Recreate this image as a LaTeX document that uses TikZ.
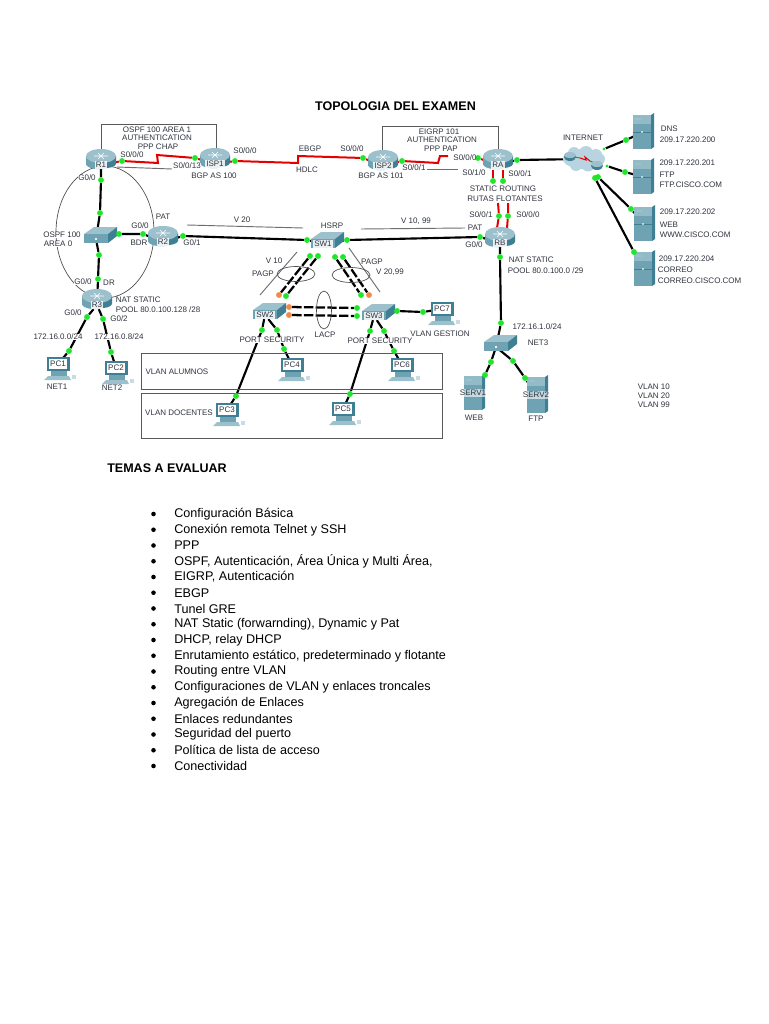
\documentclass[tikz,border=0pt]{standalone}
\usepackage{fontspec}
\setmainfont{Liberation Sans}
\usetikzlibrary{backgrounds}
\definecolor{devtop}{HTML}{9CC0CC}
\definecolor{devmid}{HTML}{6FA3B3}
\definecolor{devdark}{HTML}{3F7F94}
\definecolor{cloudc}{HTML}{B7D4E0}
\definecolor{inkc}{HTML}{30343F}
\definecolor{greyl}{HTML}{6E6E6E}
\definecolor{dotg}{HTML}{1FE52B}
\definecolor{doto}{HTML}{F08A4B}
\tikzset{
 lab/.style={font=\fontsize{6}{6.5}\selectfont,text=inkc,inner sep=0.4pt,fill=white},
 labn/.style={font=\fontsize{6}{6.5}\selectfont,text=inkc,inner sep=0.4pt},
 devlab/.style={font=\fontsize{6}{6.5}\selectfont,text=inkc,inner sep=0.8pt,fill=white,fill opacity=.85,text opacity=1},
 gdot/.style={circle,fill=dotg,minimum size=4.4pt,inner sep=0},
 odot/.style={circle,fill=doto,minimum size=4.4pt,inner sep=0},
 eth/.style={black,line width=1.6pt},
 chan/.style={black,line width=1.7pt,dash pattern=on 7pt off 1.8pt},
 ser/.style={red!90!black,line width=1.5pt},
 grl/.style={greyl,line width=.7pt},
 frame/.style={draw=black!65,line width=.7pt},
 ring/.style={draw=black!70,line width=.5pt},
 bul/.style={font=\fontsize{9.45}{11}\selectfont,text=black,inner sep=0,anchor=west},
 head/.style={font=\fontsize{9.4}{11}\selectfont\bfseries,text=black,inner sep=0},
}
\newcounter{labc}
\newcommand\lab[4][center]{\stepcounter{labc}\node[lab,anchor=#1] (t\thelabc) at (#2,#3) {#4};}
\newcommand\labb[4][center]{\stepcounter{labc}\node[labn,anchor=#1] (t\thelabc) at (#2,#3) {#4};}
\newcommand\gd[3]{\node[gdot] (#1) at (#2,#3) {};}
\newcommand\od[3]{\node[odot] (#1) at (#2,#3) {};}
\newcommand\routerdev[4]{%
 \begin{scope}[shift={(#2,#3)}]
  \fill[devdark] (-15,-3) -- (-15,5) .. controls (-14,11) and (14,11) .. (15,5) -- (15,-3) -- cycle;
  \fill[devmid] (-15,-3) -- (-15,5) .. controls (-14,11) and (4,11) .. (5,9) -- (5,-3) -- cycle;
  \fill[devtop] (0,-3) ellipse [x radius=15,y radius=7];
  \draw[white,line width=.5pt] (-7,-3) -- (7,-3) (-3,-6) -- (3,0) (3,-6) -- (-3,0);
  \node[devlab] (#1) at (0,6) {#4};
 \end{scope}}
\newcommand\switchdev[4]{%
 \begin{scope}[shift={(#2,#3)}]
  \fill[devtop] (-16,-1) -- (-6,-8) -- (17,-8) -- (8,-1) -- cycle;
  \fill[devmid] (-16,-1) -- (8,-1) -- (8,8) -- (-16,8) -- cycle;
  \fill[devdark] (8,-1) -- (17,-8) -- (17,1) -- (8,8) -- cycle;
  \node[devlab] (#1) at (-4,4) {#4};
 \end{scope}}
\newcommand\pcdev[4]{%
 \begin{scope}[shift={(#2,#3)}]
  \fill[devdark] (-11,-11) -- (12,-11) -- (12,3) -- (-11,3) -- cycle;
  \fill[white] (-9,-9) rectangle (9,1);
  \fill[devmid] (-7,3) -- (9,3) -- (9,8) -- (-7,8) -- cycle;
  \fill[devtop] (-10,8) -- (11,8) -- (13,12) -- (-14,12) -- cycle;
  \fill[devtop!55!white] (14,7) rectangle (18,11);
  \node[font=\fontsize{6}{6.5}\selectfont,text=inkc,inner sep=0] (#1) at (0,-4) {#4};
 \end{scope}}
\newcommand\serverdev[5]{% name x y halfheight label
 \begin{scope}[shift={(#2,#3)}]
  \fill[devmid] (-10,-#4) rectangle (8,#4);
  \fill[devtop!80!devmid] (-10,-#4) rectangle (8,-#4+9);
  \fill[devdark] (8,-#4) -- (11,-#4-2) -- (11,#4-2) -- (8,#4) -- cycle;
  \fill[devtop] (-8,-#4+3) rectangle (-2,-#4+5);
  \draw[devdark,line width=.3pt] (-10,0) -- (8,0);
  \node[devlab,fill opacity=.6] (#1) at (-1,0) {#5};
 \end{scope}}
\begin{document}
\begin{tikzpicture}[x=.75pt,y=-.75pt]
\useasboundingbox (0,0) rectangle (768,1024);
\begin{scope}[on background layer]\fill[white] (0,0) rectangle (768,1024);\end{scope}

% boxes
\draw[frame] (101,152) -- (101,124) -- (216,124) -- (216,152);
\draw[frame] (382,152) -- (382,126) -- (498,126) -- (498,152);
\draw[frame] (141,353) rectangle (442,389);
\draw[frame] (141,393) rectangle (442,438);
\draw[ring] (105,232) ellipse [x radius=49,y radius=66];
\draw[ring] (296,274) ellipse [x radius=19,y radius=7.5];
\draw[ring] (351,275) ellipse [x radius=19,y radius=7.5];
\draw[ring] (324,310) ellipse [x radius=7.5,y radius=19];

% devices
\routerdev{R1}{101}{159}{R1}
\routerdev{ISP1}{215}{158}{ISP1}
\routerdev{ISP2}{383}{160}{ISP2}
\routerdev{RA}{498}{159}{RA}
\routerdev{RB}{500}{237}{RB}
\routerdev{R2}{163}{236}{R2}
\routerdev{R3}{97}{299}{R3}
\switchdev{SWA}{100}{235}{}
\switchdev{SW1}{327}{240}{SW1}
\switchdev{SW2}{269}{311}{SW2}
\switchdev{SW3}{378}{312}{SW3}
\switchdev{NETSW}{500}{343}{}
\pcdev{PC1}{58}{368}{PC1}
\pcdev{PC2}{116}{372}{PC2}
\pcdev{PC3}{227}{414}{PC3}
\pcdev{PC4}{292}{369}{PC4}
\pcdev{PC5}{343}{413}{PC5}
\pcdev{PC6}{402}{369}{PC6}
\pcdev{PC7}{442}{313}{PC7}
\serverdev{DNS}{643}{132}{17}{}
\serverdev{FTP}{643}{177}{17}{}
\serverdev{WEB}{644}{224}{17}{}
\serverdev{COR}{644}{269}{17}{}
\serverdev{SERV1}{474}{393}{17}{SERV1}
\serverdev{SERV2}{537}{395}{18}{SERV2}

% cloud
\fill[cloudc] (584,159) ellipse [x radius=21,y radius=10] (574,153) circle (6) (586,153) circle (7) (596,155) circle (6) (576,165) circle (6) (588,165) circle (6.5) (597,164) circle (5);
\node[inner sep=0,minimum size=1pt] (NET) at (585,159) {};
\draw[dotg!70!black,line width=.7pt] (570,156) -- (580,158);
\draw[dotg!70!black,line width=.7pt] (590,161) -- (597,164);
\draw[red!90!black,line width=.8pt] (580,158) -- (586,160) -- (585,157) -- (590,161);
\fill[devdark] (570,157) ellipse [x radius=6,y radius=4];
\fill[devtop] (570,155) ellipse [x radius=6,y radius=3];
\fill[devdark] (597,166) ellipse [x radius=6,y radius=4];
\fill[devtop] (597,164) ellipse [x radius=6,y radius=3];

% dots
\gd{a1}{122}{161}\gd{a2}{195}{158}\gd{a3}{235}{161}\gd{a4}{363}{158}
\gd{a5}{402}{161}\gd{a6}{478}{158}
\gd{b1}{101}{180}\gd{b2}{100}{213}\gd{b3}{99}{255}\gd{b4}{98}{279}
\gd{b5}{119}{234}\gd{b6}{143}{234}\gd{b7}{183}{236}\gd{b8}{307}{240}
\gd{b9}{347}{240}\gd{b10}{480}{237}
\gd{c1}{517}{160}\gd{c2}{626}{140}\gd{c3}{625}{172}\gd{c4}{631}{209}\gd{c5}{634}{252}
\gd{c6}{598}{177}\gd{c7}{595}{178}
\node[gdot,minimum size=2.6pt] (c8) at (604,149) {};
\node[gdot,minimum size=2.6pt] (c9) at (607,166) {};
\gd{e1}{493}{181}\gd{e2}{503}{181}\gd{e3}{499}{216}\gd{e4}{508}{216}
\gd{f1}{500}{257}\gd{f2}{501}{323}\gd{f3}{491}{362}\gd{f4}{485}{375}\gd{f5}{513}{361}\gd{f6}{525}{378}
\gd{g1}{87}{317}\gd{g2}{69}{351}\gd{g3}{103}{319}\gd{g4}{111}{352}
\gd{h1}{262}{330}\gd{h2}{236}{396}\gd{h3}{277}{330}\gd{h4}{284}{349}
\gd{h5}{370}{331}\gd{h6}{350}{394}\gd{h7}{384}{331}\gd{h8}{394}{351}
\gd{h9}{397}{311}\gd{h10}{423}{312}
\gd{k1}{310}{256}\gd{k2}{318}{256}\od{k3}{279}{295}\gd{k4}{286}{296}
\gd{k5}{335}{257}\gd{k6}{343}{257}\gd{k7}{361}{295}\od{k8}{369}{295}
\od{k9}{289}{307}\od{k10}{289}{315}\gd{k11}{357}{308}\gd{k12}{357}{316}

% free ends of the short stubs
\coordinate (zr1) at (158,163);\coordinate (zr2) at (157,155);
\coordinate (zi1) at (298,163);\coordinate (zi2) at (298,156);
\coordinate (zp1) at (438,163);\coordinate (zp2) at (440,156);\coordinate (zp3) at (448,156);
\coordinate (ra1) at (493,170);\coordinate (ra2) at (503,170);
\coordinate (rb1) at (497,228);\coordinate (rb2) at (507,228);
\coordinate (rc1) at (498,203);\coordinate (rc2) at (508,203);
\coordinate (gr1) at (117,167);\coordinate (gr2) at (172,169);
\coordinate (gr3) at (427,169);\coordinate (gr4) at (458,169);
\coordinate (gv1) at (187,225);\coordinate (gv2) at (303,228);
\coordinate (gv3) at (361,229);\coordinate (gv4) at (465,228);
\coordinate (gs1) at (297,252);\coordinate (gs2) at (260,295);
\coordinate (gs3) at (349,248);\coordinate (gs4) at (380,292);

\begin{pgfonlayer}{background}
\draw[ser] (R1) -- (a1) -- (zr1) -- (zr2) -- (a2) -- (ISP1);
\draw[ser] (ISP1) -- (a3) -- (zi1) -- (zi2) -- (a4) -- (ISP2);
\draw[ser] (ISP2) -- (a5) -- (zp1) -- (zp2) -- (zp3);
\draw[ser] (a6) -- (RA);
\draw[ser] (ra1) -- (e1);\draw[ser] (ra2) -- (e2);
\draw[ser] (rc1) -- (e3) -- (rb1);\draw[ser] (rc2) -- (e4) -- (rb2);
\draw[grl] (gr1) -- (gr2);\draw[grl] (gr3) -- (gr4);
\draw[grl] (gv1) -- (gv2);\draw[grl] (gv3) -- (gv4);
\draw[grl] (gs1) -- (gs2);\draw[grl] (gs3) -- (gs4);
\draw[eth] (R1) -- (b1) -- (b2) -- (SWA.center);
\draw[eth] (SWA.center) -- (b3) -- (b4) -- (R3);
\draw[eth] (SWA.center) -- (b5) -- (b6) -- (R2);
\draw[eth] (R2) -- (b7) -- (b8) -- (SW1);
\draw[eth] (SW1) -- (b9) -- (b10) -- (RB);
\draw[eth] (RA) -- (c1) -- (NET);
\draw[eth] (c8) -- (c2) -- (DNS.east);
\draw[eth] (c9) -- (c3) -- (FTP.east);
\draw[eth] (c6) -- (c4) -- (WEB.east);
\draw[eth] (c7) -- (c5) -- (COR.east);
\draw[eth] (RB) -- (f1) -- (f2) -- (NETSW.center);
\draw[eth] (NETSW.center) -- (f3) -- (f4) -- (SERV1);
\draw[eth] (NETSW.center) -- (f5) -- (f6) -- (SERV2);
\draw[eth] (R3) -- (g1) -- (g2) -- (PC1);
\draw[eth] (R3) -- (g3) -- (g4) -- (PC2);
\draw[eth] (SW2) -- (h1) -- (h2) -- (PC3);
\draw[eth] (SW2) -- (h3) -- (h4) -- (PC4);
\draw[eth] (SW3) -- (h5) -- (h6) -- (PC5);
\draw[eth] (SW3) -- (h7) -- (h8) -- (PC6);
\draw[eth] (SW3) -- (h9) -- (h10) -- (PC7);
\draw[chan] (k1) -- (k3);\draw[chan] (k2) -- (k4);
\draw[chan] (k5) -- (k7);\draw[chan] (k6) -- (k8);
\draw[chan] (k9) -- (k11);\draw[chan] (k10) -- (k12);
\end{pgfonlayer}

% labels
\lab{157}{130}{OSPF 100 AREA 1}\lab{157}{138}{AUTHENTICATION}\lab{158}{147}{PPP CHAP}
\labb{132}{155}{S0/0/0}\lab{187}{166}{S0/0/13}\labb{245}{151}{S0/0/0}\lab{214}{176}{BGP AS 100}
\labb{310}{149}{EBGP}\labb{307}{170}{HDLC}\labb{352}{149}{S0/0/0}
\lab{87}{178}{G0/0}\lab{163}{217}{PAT}\labb{242}{220}{V 20}\labb{332}{226}{HSRP}
\lab{62}{235}{OSPF 100}\lab{58}{244}{AREA 0}\labb{140}{226}{G0/0}\labb{139}{243}{BDR}\labb{192}{243}{G0/1}
\lab{83}{282}{G0/0}\labb{109}{283}{DR}
\labb{274}{261}{V 10}\lab{263}{274}{PAGP}\lab{372}{262}{PAGP}\lab{390}{272}{V 20,99}
\labb{325}{335}{LACP}\lab{272}{340}{PORT SECURITY}\lab{380}{341}{PORT SECURITY}\lab{440}{334}{VLAN GESTION}
\lab[west]{115}{300}{NAT STATIC}\lab[west]{115}{310}{POOL 80.0.100.128 /28}
\labb{73}{313}{G0/0}\labb{119}{319}{G0/2}\lab{58}{337}{172.16.0.0/24}\lab{119}{337}{172.16.0.8/24}
\labb{57}{387}{NET1}\labb{112}{388}{NET2}\labb{177}{372}{VLAN ALUMNOS}\labb{179}{413}{VLAN DOCENTES}
\labb{439}{132}{EIGRP 101}\labb{442}{140}{AUTHENTICATION}\labb{441}{149}{PPP PAP}\labb{465}{158}{S0/0/0}
\labb{381}{176}{BGP AS 101}\labb{414}{168}{S0/0/1}\labb{474}{173}{S0/1/0}\labb{520}{174}{S0/0/1}
\lab{503}{189}{STATIC ROUTING}\lab{505}{199}{RUTAS FLOTANTES}
\labb{481}{215}{S0/0/1}\labb{528}{215}{S0/0/0}\labb{416}{221}{V 10, 99}\lab{475}{228}{PAT}\labb{474}{245}{G0/0}
\lab[west]{508}{260}{NAT STATIC}\lab[west]{507}{271}{POOL 80.0.100.0 /29}\labb{583}{138}{INTERNET}
\labb[west]{660}{129}{DNS}\labb[west]{659}{140}{209.17.220.200}
\labb[west]{658.7}{163}{209.17.220.201}\labb[west]{658.7}{175}{FTP}\labb[west]{658.7}{185}{FTP.CISCO.COM}
\labb[west]{659}{212}{209.17.220.202}\labb[west]{659}{225}{WEB}\labb[west]{659}{235}{WWW.CISCO.COM}
\labb[west]{658}{259}{209.17.220.204}\labb[west]{657}{270}{CORREO}\labb[west]{657}{281}{CORREO.CISCO.COM}
\labb{537}{327}{172.16.1.0/24}\labb{538}{343}{NET3}\labb{474}{418}{WEB}\labb{536}{419}{FTP}
\labb[west]{637}{387}{VLAN 10}\labb[west]{637}{396}{VLAN 20}\labb[west]{637}{405}{VLAN 99}

% headings and list
\node[head] (title) at (395.5,106) {TOPOLOGIA DEL EXAMEN};
\node[head,anchor=west] (temas) at (107,468) {TEMAS A EVALUAR};
\foreach \n/\t [count=\i from 0] in {a/Configuración Básica,b/Conexión remota Telnet y SSH,c/PPP,d/{OSPF, Autenticación, Área Única y Multi Área,},e/{EIGRP, Autenticación},f/EBGP,g/Tunel GRE,h/{NAT Static (forwarnding), Dynamic y Pat},i/{DHCP, relay DHCP},j/{Enrutamiento estático, predeterminado y flotante},k/Routing entre VLAN,l/Configuraciones de VLAN y enlaces troncales,m/Agregación de Enlaces,n/Enlaces redundantes,o/Seguridad del puerto,p/Política de lista de acceso,q/Conectividad}{
 \node[bul] (li\n) at (174,514+\i*15.75) {\t};
 \fill[black] (153.5,514+\i*15.75) ellipse [x radius=2.3,y radius=2.3];
}
\end{tikzpicture}
\end{document}
